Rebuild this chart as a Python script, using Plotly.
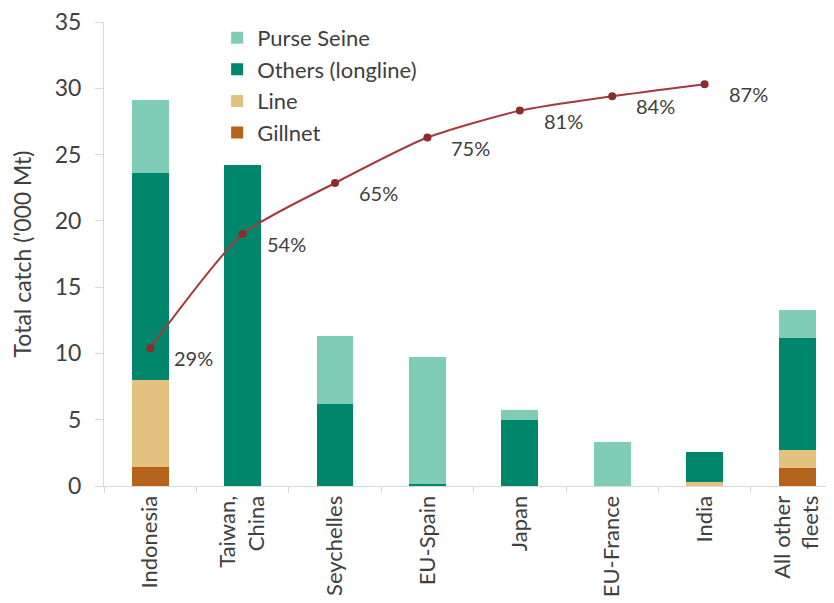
import plotly.graph_objects as go

categories = ["Indonesia", "Taiwan,<br>China", "Seychelles", "EU-Spain", "Japan",
              "EU-France", "India", "All other<br>fleets"]
gillnet = [1.45, 0, 0, 0, 0, 0, 0, 1.35]
line_gear = [6.55, 0, 0, 0, 0, 0, 0.3, 1.35]
others_longline = [15.6, 24.2, 6.15, 0.15, 4.95, 0, 2.25, 8.5]
purse_seine = [5.5, 0, 5.2, 9.55, 0.75, 3.3, 0, 2.1]
cum_pct = [29.7, 54.3, 65.3, 75.1, 80.9, 84.0, 86.6]
cum_labels = ["29%", "54%", "65%", "75%", "81%", "84%", "87%"]

FONT = "Lato, 'Open Sans', sans-serif"
TXT = "#404040"

fig = go.Figure()
series = [
    ("Gillnet", gillnet, "#b5621b"),
    ("Line", line_gear, "#e3c17e"),
    ("Others (longline)", others_longline, "#00876b"),
    ("Purse Seine", purse_seine, "#7fccb7"),
]
for name, vals, col in series:
    fig.add_trace(go.Bar(x=categories, y=vals, name=name, marker_color=col,
                         marker_line_width=0, width=0.4))

fig.add_trace(go.Scatter(
    x=categories[:len(cum_pct)], y=cum_pct, yaxis="y2", mode="lines+markers",
    line=dict(color="#a33a3c", width=2, shape="spline", smoothing=0.6),
    marker=dict(color="#8e2a2e", size=8), showlegend=False, hoverinfo="skip"))

for c, p, lab in zip(categories, cum_pct, cum_labels):
    fig.add_annotation(x=c, y=p, yref="y2", text=lab, showarrow=False,
                       xanchor="left", yanchor="middle", xshift=22, yshift=-10,
                       font=dict(family=FONT, size=20, color=TXT))

fig.update_layout(
    width=826, height=595, barmode="stack",
    margin=dict(l=96, r=0, t=14, b=117),
    paper_bgcolor="white", plot_bgcolor="white",
    font=dict(family=FONT, size=22, color=TXT),
    showlegend=True,
    legend=dict(x=0.155, y=1.011, xanchor="left", yanchor="top", traceorder="reversed",
                font=dict(family=FONT, size=22, color=TXT), bgcolor="rgba(0,0,0,0)",
                itemwidth=30, tracegroupgap=0),
    xaxis=dict(type="category", range=[-0.5, 7.4], showline=True, linecolor="#d9d9d9",
               ticks="outside", tickson="boundaries", ticklen=6, tickcolor="#d9d9d9",
               tickangle=-90, tickfont=dict(family=FONT, size=22, color=TXT),
               showgrid=False, automargin=False, ticklabeloverflow="allow"),
    yaxis=dict(range=[0, 35], dtick=5, showline=True, linecolor="#d9d9d9",
               ticks="outside", ticklen=8, tickcolor="#d9d9d9", showgrid=False,
               zeroline=False, tickfont=dict(family=FONT, size=23, color=TXT),
               ticklabelstandoff=9, automargin=False, ticklabeloverflow="allow",
               title=dict(text="Total catch ('000 Mt)", standoff=26,
                          font=dict(family=FONT, size=23, color=TXT))),
    yaxis2=dict(range=[0, 100], overlaying="y", visible=False),
)

fig.write_html("out.html")
